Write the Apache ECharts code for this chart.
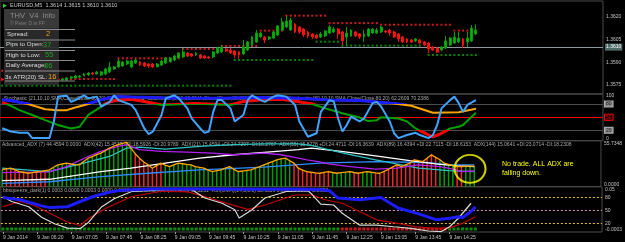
<!DOCTYPE html>
<html><head><meta charset="utf-8">
<script src="https://cdn.jsdelivr.net/npm/echarts@6/dist/echarts.min.js"></script>
<style>html,body{margin:0;padding:0;background:#000;overflow:hidden}#c{width:625px;height:242px}</style>
</head><body><div id="c"></div>
<script>
// ---------- DATA ----------
const SLOTS = 140; // bar slots visible on the time axis (incl. right shift)
const timeLabels = ['9 Jan 2014','9 Jan 06:20','9 Jan 07:05','9 Jan 07:45','9 Jan 08:25','9 Jan 09:05','9 Jan 09:45','9 Jan 10:25','9 Jan 11:05','9 Jan 11:45','9 Jan 12:25','9 Jan 13:05','9 Jan 13:45','9 Jan 14:25'];
const priceTicks = [1.3575, 1.3590, 1.3605, 1.3620];
const bidPrice = 1.3610;

const opens = [1.35789,1.35783,1.35789,1.35776,1.35783,1.35776,1.35770,1.35783,1.35776,1.35789,1.35783,1.35770,1.35796,1.35789,1.35783,1.35783,1.35796,1.35796,1.35803,1.35809,1.35816,1.35829,1.35822,1.35816,1.35822,1.35836,1.35855,1.35869,1.35875,1.35888,1.35869,1.35895,1.35902,1.35895,1.35888,1.35888,1.35869,1.35882,1.35895,1.35902,1.35915,1.35928,1.35935,1.35961,1.35955,1.35948,1.35948,1.35941,1.35935,1.35935,1.35961,1.35968,1.35988,1.35981,1.35974,1.35968,1.35955,1.35981,1.36014,1.36034,1.36067,1.36067,1.36054,1.36060,1.36080,1.36113,1.36133,1.36113,1.36153,1.36133,1.36120,1.36100,1.36087,1.36080,1.36067,1.36074,1.36093,1.36100,1.36120,1.36100,1.36067,1.36074,1.36100,1.36087,1.36067,1.36074,1.36093,1.36093,1.36100,1.36107,1.36113,1.36100,1.36087,1.36067,1.36054,1.36047,1.36041,1.36047,1.36034,1.36027,1.36001,1.35994,1.35981,1.35994,1.36014,1.36027,1.36034,1.36054,1.36034,1.36041,1.36087];
const closes = [1.35783,1.35789,1.35776,1.35783,1.35776,1.35770,1.35783,1.35776,1.35789,1.35783,1.35776,1.35796,1.35789,1.35783,1.35789,1.35796,1.35803,1.35809,1.35809,1.35822,1.35829,1.35822,1.35836,1.35836,1.35855,1.35869,1.35869,1.35908,1.35902,1.35908,1.35908,1.35915,1.35882,1.35875,1.35875,1.35869,1.35888,1.35908,1.35928,1.35928,1.35941,1.35961,1.35968,1.35941,1.35941,1.35961,1.35928,1.35928,1.35928,1.35968,1.35994,1.36001,1.35974,1.35961,1.35948,1.35948,1.36001,1.36034,1.36067,1.36093,1.36093,1.36047,1.36067,1.36100,1.36140,1.36166,1.36173,1.36179,1.36100,1.36100,1.36080,1.36074,1.36067,1.36060,1.36087,1.36107,1.36133,1.36120,1.36087,1.36041,1.36093,1.36113,1.36074,1.36067,1.36087,1.36120,1.36120,1.36113,1.36133,1.36100,1.36093,1.36067,1.36054,1.36034,1.36034,1.36034,1.36054,1.36027,1.36014,1.35988,1.35981,1.35968,1.36001,1.36041,1.36060,1.36067,1.36060,1.36014,1.36060,1.36126,1.36113];
const highs = [1.35796,1.35796,1.35796,1.35789,1.35789,1.35783,1.35789,1.35789,1.35796,1.35796,1.35789,1.35803,1.35803,1.35796,1.35796,1.35803,1.35809,1.35816,1.35816,1.35829,1.35836,1.35836,1.35842,1.35842,1.35862,1.35902,1.35875,1.35922,1.35908,1.35915,1.35915,1.35922,1.35908,1.35902,1.35895,1.35895,1.35895,1.35915,1.35935,1.35935,1.35948,1.35968,1.35994,1.35968,1.35961,1.35968,1.35955,1.35948,1.35941,1.35974,1.36001,1.36014,1.35994,1.35994,1.35981,1.35974,1.36047,1.36041,1.36074,1.36113,1.36100,1.36074,1.36074,1.36107,1.36146,1.36193,1.36206,1.36193,1.36160,1.36140,1.36126,1.36107,1.36093,1.36087,1.36100,1.36113,1.36146,1.36133,1.36126,1.36107,1.36133,1.36120,1.36107,1.36093,1.36113,1.36126,1.36126,1.36126,1.36140,1.36113,1.36120,1.36107,1.36093,1.36074,1.36060,1.36054,1.36060,1.36054,1.36041,1.36034,1.36007,1.36001,1.36007,1.36074,1.36067,1.36100,1.36100,1.36060,1.36100,1.36146,1.36150];
const lows = [1.35776,1.35776,1.35770,1.35770,1.35763,1.35763,1.35763,1.35770,1.35770,1.35776,1.35770,1.35763,1.35783,1.35776,1.35776,1.35776,1.35789,1.35796,1.35796,1.35809,1.35809,1.35816,1.35822,1.35809,1.35816,1.35829,1.35849,1.35862,1.35869,1.35882,1.35862,1.35888,1.35875,1.35869,1.35862,1.35862,1.35869,1.35875,1.35888,1.35902,1.35908,1.35922,1.35928,1.35935,1.35935,1.35941,1.35922,1.35922,1.35922,1.35928,1.35955,1.35961,1.35968,1.35955,1.35928,1.35922,1.35948,1.35974,1.36007,1.36027,1.36060,1.36027,1.36047,1.36054,1.36074,1.36107,1.36126,1.36107,1.36093,1.36087,1.36067,1.36060,1.36054,1.36054,1.36060,1.36067,1.36087,1.36093,1.36054,1.36014,1.36014,1.36067,1.36067,1.36054,1.36034,1.36067,1.36087,1.36087,1.36093,1.36093,1.36074,1.36060,1.36034,1.36027,1.36027,1.36027,1.36034,1.36021,1.36007,1.35961,1.35974,1.35961,1.35974,1.35988,1.36007,1.36021,1.36027,1.35994,1.36001,1.36034,1.36080];

// support / resistance dotted levels: [fromBar, toBar, price]
const resistanceLevels = [[0,13,1.35844],[14,26,1.35789],[27,41,1.35926],[42,50,1.35988],[51,59,1.36008],[60,65,1.36109],[66,75,1.36208],[76,87,1.36159],[88,104,1.36148],[105,110,1.36109]];
const supportLevels = [[0,53,1.35745],[54,72,1.35915],[73,78,1.36036],[79,97,1.36010],[99,110,1.35948]];

// stochastic panel: [bar, value]
const stochFast = [[0,24.5],[2,17],[4,14],[6,14],[7,2],[11,2],[12,40],[13,97],[15,99],[16,85],[17,89],[19,100],[20,93],[22,97],[23,74],[25,85],[26,100],[27,89],[30,78],[31,66],[33,24],[34,11],[35,17],[37,55],[38,93],[40,100],[41,93],[43,70],[44,47],[46,24],[47,14],[48,17],[49,62],[50,89],[51,89],[53,70],[54,40],[56,55],[57,89],[58,100],[60,89],[61,85],[63,97],[64,100],[66,97],[68,78],[69,40],[71,5],[72,9],[73,13],[74,62],[76,89],[77,86],[78,47],[79,17],[80,32],[81,51],[83,40],[84,47],[86,82],[87,85],[88,74],[90,40],[91,13],[92,2],[94,9],[96,14],[97,9],[99,2],[100,9],[101,32],[102,70],[104,89],[105,97],[106,82],[107,62],[108,78],[110,89]];
const stochMid = [[0,84],[2,76],[4,66],[7,55],[10,43],[13,32],[16,24],[18,28],[20,55],[23,74],[24,81],[26,88],[30,91],[33,86],[35,82],[37,78],[40,79],[45,81],[50,79],[53,78],[56,86],[60,90],[65,91],[69,85],[72,80],[75,70],[79,59],[83,49],[85,41],[87,43],[88,50],[92,47],[94,40],[96,24],[99,9],[100,5],[102,13],[104,24],[106,28],[107,32],[110,60]];
const stochSlow = [[0,90],[2,88],[6,80],[10,68],[13,66],[15,66],[17,72],[20,80],[23,90],[26,97],[30,96],[39,94],[51,93],[60,95],[69,93],[76,89],[83,88],[91,81],[95,76],[100,60],[106,61],[110,69]];
const stochLevels = [80, 50, 20];
const stochTicks = [0, 100];

// ADX panel
const adxMax = 55.7348;
const adx7 = [20.4,21.5,22.4,20.5,18.3,17.5,16.3,17.0,17.8,18.3,19.5,20.4,23.5,26.5,27.5,28.5,27.5,26.8,26.5,30.5,34.6,36.5,38.8,40.7,43.5,46.8,49.0,50.9,52.5,53.7,46.8,40.0,34.6,30.0,26.5,22.4,25.5,28.5,26.0,24.4,26.5,28.5,27.8,27.0,26.5,24.4,23.4,22.4,20.0,18.3,19.5,20.4,22.5,24.4,21.0,18.3,19.0,19.8,20.4,22.4,24.4,26.5,28.5,30.5,32.6,33.8,34.6,31.5,28.5,22.4,20.0,18.3,17.5,16.8,16.3,17.3,18.3,17.2,16.3,17.0,17.6,18.3,17.2,16.3,17.3,18.3,17.5,16.8,16.3,18.5,21.2,24.0,26.5,24.4,26.5,28.5,32.6,31.5,30.5,34.6,38.7,35.5,32.6,28.5,27.0,25.5,24.4,24.4,24.8,25.0,25.0];
const adxRisingBars = [[0,0],[11,30],[38,67],[77,81],[84,86],[102,105],[108,110]];
const adx42 = [[0,17],[11,18],[15,24.4],[20,36.6],[23,42.7],[27,48.8],[29,50.9],[32,44.8],[37,42.7],[43,42],[49,40.7],[54,38.7],[61,40.7],[65,38.7],[69,34.6],[71,32.6],[74,30],[76,27.7],[81,24.4],[87,21.2],[92,22.4],[97,26.5],[102,24.4],[105,21.2],[107,18.3],[110,19]];
const adx21 = [[0,22.4],[11,18.3],[19,28.5],[25,36.6],[29,46.8],[32,48],[38,45.6],[46,48.8],[54,50.9],[61,52],[69,52],[72,50],[76,45],[80,40],[87,32.6],[93,26.5],[97,22.4],[104,19.5],[110,18.3]];
const adx144 = [[0,7.3],[11,9],[23,18.3],[30,22.4],[38,28.5],[46,34.6],[54,38.7],[61,41.5],[69,44.8],[72,46.8],[79,42.7],[87,37.4],[95,31.7],[101,27.7],[106,25.2],[110,24.4]];
const adx89 = [[0,4],[11,6],[23,12.2],[34,16.3],[46,20.4],[61,23.7],[74,28.5],[87,30.5],[99,29.3],[104,26.5],[110,26.5]];
const noteMark = [109, 21.6];

// bottom panel
const rsiBlue = [[0,79],[4,74],[9,60],[11,56],[15,58],[18,70],[21,81.5],[25,92],[27,95],[30,97],[35,98.5],[46,98.5],[58,98],[69,98],[74,97],[76,95],[78,78],[83,74],[88,79],[92,55],[97,41],[101,28],[104,31.6],[106,35],[107,33],[109,47],[110,58]];
const stoWhite = [[0,81.5],[2,70],[6,58],[9,34],[12,19],[15,9],[18,8],[20,23],[23,58],[26,77],[30,93],[38,97],[44,97],[47,78],[51,66],[54,51],[55,32],[58,51],[61,78],[66,93],[71,95],[72,86],[74,64],[77,62],[79,43],[83,16],[87,16],[91,12],[95,8.5],[99,2.3],[102,0.7],[104,12],[106,31],[109,66]];
const sigRed = [[0,58.4],[4,70],[7,62],[11,42.5],[15,23],[18,15],[20,31.6],[24,54.7],[30,81.5],[37,93.6],[43,92],[48,78],[54,60.7],[57,52],[61,62],[68,85],[72,85],[75,74],[79,66],[83,47],[87,28],[92,20],[96,12],[101,8.5],[104,9.4],[107,20],[110,35]];
const squeezeBars = [0, 110];
const squeezeOffBars = [[79,103]];
const squeezeValue = 0;
const bottomTickValues = [0, 20, 50, 80, 104];
const bottomTickText = ['-0.0003', '20', '50', '80', '0.05'];

// ---------- BUILD ----------
const FONT = '"Liberation Sans", Arial, sans-serif';
const inRanges = (r, i) => r.some(s => i >= s[0] && i <= s[1]);
const expand = lv => { const out = []; lv.forEach(s => { for (let i = s[0]; i <= s[1]; i++) out.push([i, s[2]]); }); return out; };
const slots = Array.from({length: SLOTS}, (_, i) => i);

const xAx = (g, show) => ({
  type: 'category', gridIndex: g, data: slots, boundaryGap: true,
  axisLine: {show: false},
  axisTick: show ? {show: true, alignWithLabel: true, length: 2, lineStyle: {color: '#9a9a9a'},
    interval: i => i % 8 === 0 && i / 8 < timeLabels.length} : {show: false},
  axisLabel: show ? {show: true, fontSize: 5, fontFamily: FONT, color: '#c4c4c4', align: 'left', margin: 3,
    interval: i => i % 8 === 0 && i / 8 < timeLabels.length,
    formatter: (v, i) => timeLabels[i / 8] || ''} : {show: false},
  splitLine: {show: false}
});
const yLab = extra => Object.assign({fontSize: 5, fontFamily: FONT, color: '#c4c4c4', margin: 3}, extra);

const candleData = opens.map((o, i) => [o, closes[i], lows[i], highs[i]]);
const hist = adx7.map((v, i) => ({value: [i, v], itemStyle: {color: inRanges(adxRisingBars, i) ? '#00a000' : '#f02828'}}));
const dots = [];
for (let i = squeezeBars[0]; i <= squeezeBars[1]; i++) dots.push({value: [i, squeezeValue], itemStyle: {color: inRanges(squeezeOffBars, i) ? '#ff1a1a' : '#00b000'}});

const lvlLabel = (txt, bg, fg, bc) => ({show: true, position: 'end', distance: 2, formatter: txt, fontSize: 5, fontFamily: FONT,
  color: fg, backgroundColor: bg, borderColor: bc, borderWidth: 1, padding: [0, 1]});

const line = (g, data, color, width, z, extra) => Object.assign({
  type: 'line', xAxisIndex: g, yAxisIndex: g, data, showSymbol: false, symbol: 'none',
  lineStyle: color ? {color, width} : {width}, itemStyle: color ? {color} : {}, z, silent: true, animation: false
}, extra || {});

const CLEAR = 'rgba(0,0,0,0)';
const option = {
  backgroundColor: '#000', animation: false,
  textStyle: {fontFamily: FONT},
  grid: [
    {left: 0, right: 22, top: 1, height: 93},
    {left: 0, right: 22, top: 94, height: 46.7},
    {left: 0, right: 22, top: 140.7, height: 46},
    {left: 0, right: 22, top: 186.7, height: 45.3}
  ].map(g => Object.assign(g, {show: true, borderColor: '#4a4a4a', borderWidth: 1, backgroundColor: 'transparent'})),
  xAxis: [xAx(0, false), xAx(1, false), xAx(2, false), xAx(3, true)],
  yAxis: [
    {gridIndex: 0, type: 'value', position: 'right', min: 1.35690, max: 1.36305, axisLine: {show: false}, axisTick: {show: false}, splitLine: {show: false},
      axisLabel: yLab({customValues: priceTicks, formatter: v => v.toFixed(4)})},
    {gridIndex: 1, type: 'value', position: 'right', min: -4, max: 103, axisLine: {show: false}, axisTick: {show: false}, splitLine: {show: false},
      axisLabel: yLab({customValues: stochTicks, formatter: v => String(v)})},
    {gridIndex: 2, type: 'value', position: 'right', min: 0, max: adxMax, axisLine: {show: false}, axisTick: {show: false}, splitLine: {show: false},
      axisLabel: yLab({customValues: [0, adxMax], formatter: v => v.toFixed(4), verticalAlignMaxLabel: 'top', verticalAlignMinLabel: 'bottom'})},
    {gridIndex: 3, type: 'value', position: 'right', min: 0, max: 104, axisLine: {show: false}, axisTick: {show: false}, splitLine: {show: false},
      axisLabel: yLab({customValues: bottomTickValues, formatter: v => bottomTickText[bottomTickValues.indexOf(v)], verticalAlignMaxLabel: 'top', verticalAlignMinLabel: 'bottom'})}
  ],
  visualMap: [
    {show: false, type: 'piecewise', seriesIndex: 5, dimension: 1,
      pieces: [{min: -500, max: 80, color: CLEAR}, {min: 80, max: 500, color: '#1c1cff'}]},
    {show: false, type: 'piecewise', seriesIndex: 4, dimension: 1,
      pieces: [{min: -500, max: 20, color: '#ff0000'}, {min: 20, max: 80, color: CLEAR}, {min: 80, max: 500, color: '#ff0000'}]}
  ],
  series: [
    // 0 support dots
    {type: 'scatter', xAxisIndex: 0, yAxisIndex: 0, data: expand(supportLevels), symbol: 'rect', symbolSize: 2, itemStyle: {color: '#00a400'}, silent: true, z: 2},
    // 1 resistance dots
    {type: 'scatter', xAxisIndex: 0, yAxisIndex: 0, data: expand(resistanceLevels), symbol: 'rect', symbolSize: 2, itemStyle: {color: '#ff2020'}, silent: true, z: 2},
    // 2 candles
    {type: 'candlestick', xAxisIndex: 0, yAxisIndex: 0, data: candleData, barWidth: 2.4, silent: true, z: 3,
      itemStyle: {color: '#00b400', color0: '#ff1010', borderColor: '#00a000', borderColor0: '#ff1010', borderWidth: 1},
      markLine: {silent: true, symbol: 'none', animation: false, z: 1,
        data: [{yAxis: bidPrice}],
        lineStyle: {color: '#8c9aa0', width: 1, type: 'solid'},
        label: {show: true, position: 'end', distance: 2, formatter: bidPrice.toFixed(4), fontSize: 5, fontFamily: FONT,
          color: '#ffffff', backgroundColor: '#4f6b6a', padding: [1, 1]}}},
    // 3 stoch green base
    line(1, stochMid, '#00a000', 2, 2),
    // 4 stoch red overlay (colour from visualMap)
    line(1, stochMid, null, 3, 3),
    // 5 slow blue overlay (colour from visualMap)
    line(1, stochSlow, null, 3, 5),
    // 6 slow orange base
    line(1, stochSlow, '#ffa500', 2, 4, {
      markLine: {silent: true, symbol: 'none', animation: false, z: 1,
        data: [
          {yAxis: stochLevels[0], lineStyle: {color: '#4c4c4c', width: 1, type: 'solid'}, label: lvlLabel(String(stochLevels[0]), '#8a8a8a', '#1a1a1a', '#b0b0b0')},
          {yAxis: stochLevels[1], lineStyle: {color: '#ff0000', width: 1, type: 'solid'}, label: lvlLabel(String(stochLevels[1]), '#000', '#ff0000', '#ff0000')},
          {yAxis: stochLevels[2], lineStyle: {color: '#4c4c4c', width: 1, type: 'solid'}, label: lvlLabel(String(stochLevels[2]), '#8a8a8a', '#1a1a1a', '#b0b0b0')}
        ]}}),
    // 7 fast stoch
    line(1, stochFast, '#3fa4ff', 2, 6),
    // 8 ADX histogram
    {type: 'bar', xAxisIndex: 2, yAxisIndex: 2, data: hist, barWidth: 1.5, silent: true, z: 2},
    line(2, adx89, '#2f8cff', 1.3, 3),
    line(2, adx144, '#ffffff', 1.3, 3),
    line(2, adx21, '#2ec4c4', 1.3, 3),
    line(2, adx42, '#b020f0', 1.3, 4),
    line(2, adx7.map((v, i) => [i, v]), '#ffa500', 1.3, 5),
    // annotation ring
    {type: 'scatter', xAxisIndex: 2, yAxisIndex: 2, data: [noteMark], symbol: 'circle', symbolSize: [31, 28], silent: true, z: 8,
      itemStyle: {color: CLEAR, borderColor: '#ffff00', borderWidth: 2}},
    // bottom panel
    {type: 'scatter', xAxisIndex: 3, yAxisIndex: 3, data: dots, symbol: 'rect', symbolSize: 3, symbolOffset: [0, -3], silent: true, z: 2},
    line(3, sigRed, '#c00000', 1.2, 3, {
      markLine: {silent: true, symbol: 'none', animation: false, z: 1,
        data: [
          {yAxis: 80, lineStyle: {color: '#e8c000', width: 1, type: [2, 2]}},
          {yAxis: 50, lineStyle: {color: '#d888c0', width: 1, type: [2, 2]}},
          {yAxis: 20, lineStyle: {color: '#e8c000', width: 1, type: [2, 2]}}
        ], label: {show: false}}}),
    line(3, stoWhite, '#d8d8d8', 1.2, 4),
    line(3, rsiBlue, '#1c1cff', 3, 5)
  ],
  graphic: [
    {type: 'text', x: 10, y: 5.7, z: 1, style: {text: 'EURUSD,M5  1.3614 1.3615 1.3610 1.3610', font: '5.5px ' + FONT, fill: '#c8c8c8', verticalAlign: 'middle'}},
    {type: 'polygon', z: 1, shape: {points: [[3, 3.5], [7, 5.7], [3, 8]]}, style: {fill: '#30c030'}},
    {type: 'text', x: 4, y: 99, z: 1, style: {text: 'Stochastic (21,10,10,SMA,Close/Close,80,20) 89.1765 91.4531  Stochastic (5,10,10,SMA,Close/Close,80,20) 55.2941 71.7284  Stochastic (80,10,10,SMA,Close/Close,80,20) 62.2609 70.2386', font: '5px ' + FONT, fill: '#a8a8a8', verticalAlign: 'middle'}},
    {type: 'text', x: 2, y: 145, z: 1, style: {text: 'Advanced_ADX (7) 44.4594 0.0000  ADX(42) 15.4537 +DI:18.5926 -DI:20.9789  ADX(21) 15.4594 +DI:24.7297 -DI:16.2767  ADX(55) 15.8278 +DI:24.4711 -DI:16.3639  ADX(89) 16.4394 +DI:22.7115 -DI:18.6153  ADX(144) 15.0641 +DI:23.0714 -DI:18.2308', font: '5px ' + FONT, fill: '#a8a8a8', verticalAlign: 'middle'}},
    {type: 'text', x: 3, y: 191, z: 1, style: {text: 'bbsqueeze_dark(1) 0.0003 0.0000 0.0003 0.0000 0.0000  Stochastic(5,3,3) 81.4035 66.5231  RSI(OMA)(14,5,0.8) 55.6359 0.0000 0.0000 45.2358', font: '5px ' + FONT, fill: '#a8a8a8', verticalAlign: 'middle'}},
    // info panel
    {type: 'group', z: 50, children: [
      {type: 'rect', z: 50, shape: {x: 4, y: 9, width: 55, height: 76}, style: {fill: 'rgba(44,44,44,0.93)'}},
      {type: 'rect', z: 50, shape: {x: 4, y: 9, width: 55, height: 19}, style: {fill: 'rgba(58,58,58,0.95)'}},
      ...[29.5, 40, 50.5, 60.5, 71, 81].map(y => ({type: 'line', z: 51, shape: {x1: 5, y1: y, x2: 75, y2: y}, style: {stroke: '#8c8c8c', lineWidth: 1}})),
      {type: 'text', z: 52, x: 10, y: 15.7, style: {text: 'THV  V4  Info', font: '7.5px ' + FONT, fill: '#8e8e8e', verticalAlign: 'middle'}},
      {type: 'text', z: 52, x: 10, y: 23.3, style: {text: '\u00a9 Peter D in FF', font: '5px ' + FONT, fill: '#7c7c7c', verticalAlign: 'middle'}},
      {type: 'text', z: 52, x: 7, y: 34, style: {text: 'Spread:', font: '6.2px ' + FONT, fill: '#dedede', verticalAlign: 'middle'}},
      {type: 'text', z: 52, x: 46, y: 34, style: {text: '2', font: '7.5px ' + FONT, fill: '#f0a020', verticalAlign: 'middle'}},
      {type: 'text', z: 52, x: 6, y: 44.5, style: {text: 'Pips to Open:', font: '6.2px ' + FONT, fill: '#dedede', verticalAlign: 'middle'}},
      {type: 'text', z: 52, x: 43, y: 44.5, style: {text: '37', font: '7.5px ' + FONT, fill: '#20a020', verticalAlign: 'middle'}},
      {type: 'text', z: 52, x: 6, y: 55, style: {text: 'High to Low:', font: '6.2px ' + FONT, fill: '#dedede', verticalAlign: 'middle'}},
      {type: 'text', z: 52, x: 45, y: 55, style: {text: '55', font: '7.5px ' + FONT, fill: '#20a020', verticalAlign: 'middle'}},
      {type: 'text', z: 52, x: 6, y: 65.5, style: {text: 'Daily Average:', font: '6.2px ' + FONT, fill: '#dedede', verticalAlign: 'middle'}},
      {type: 'text', z: 52, x: 44, y: 65.5, style: {text: '86', font: '7.5px ' + FONT, fill: '#20a020', verticalAlign: 'middle'}},
      {type: 'text', z: 52, x: 5, y: 77, style: {text: '3x ATR(20) SL:', font: '6.2px ' + FONT, fill: '#dedede', verticalAlign: 'middle'}},
      {type: 'text', z: 52, x: 48, y: 77, style: {text: '16', font: '7.5px ' + FONT, fill: '#f0a020', verticalAlign: 'middle'}}
    ]},
    {type: 'text', z: 60, x: 502, y: 164, style: {text: 'No trade. ALL ADX are', font: '7px ' + FONT, fill: '#ffff00', verticalAlign: 'middle'}},
    {type: 'text', z: 60, x: 502, y: 173.5, style: {text: 'falling down.', font: '7px ' + FONT, fill: '#ffff00', verticalAlign: 'middle'}}
  ]
};
const chart = echarts.init(document.getElementById('c'), null, {renderer: 'canvas', width: 625, height: 242});
chart.setOption(option);
</script>
</body></html>
